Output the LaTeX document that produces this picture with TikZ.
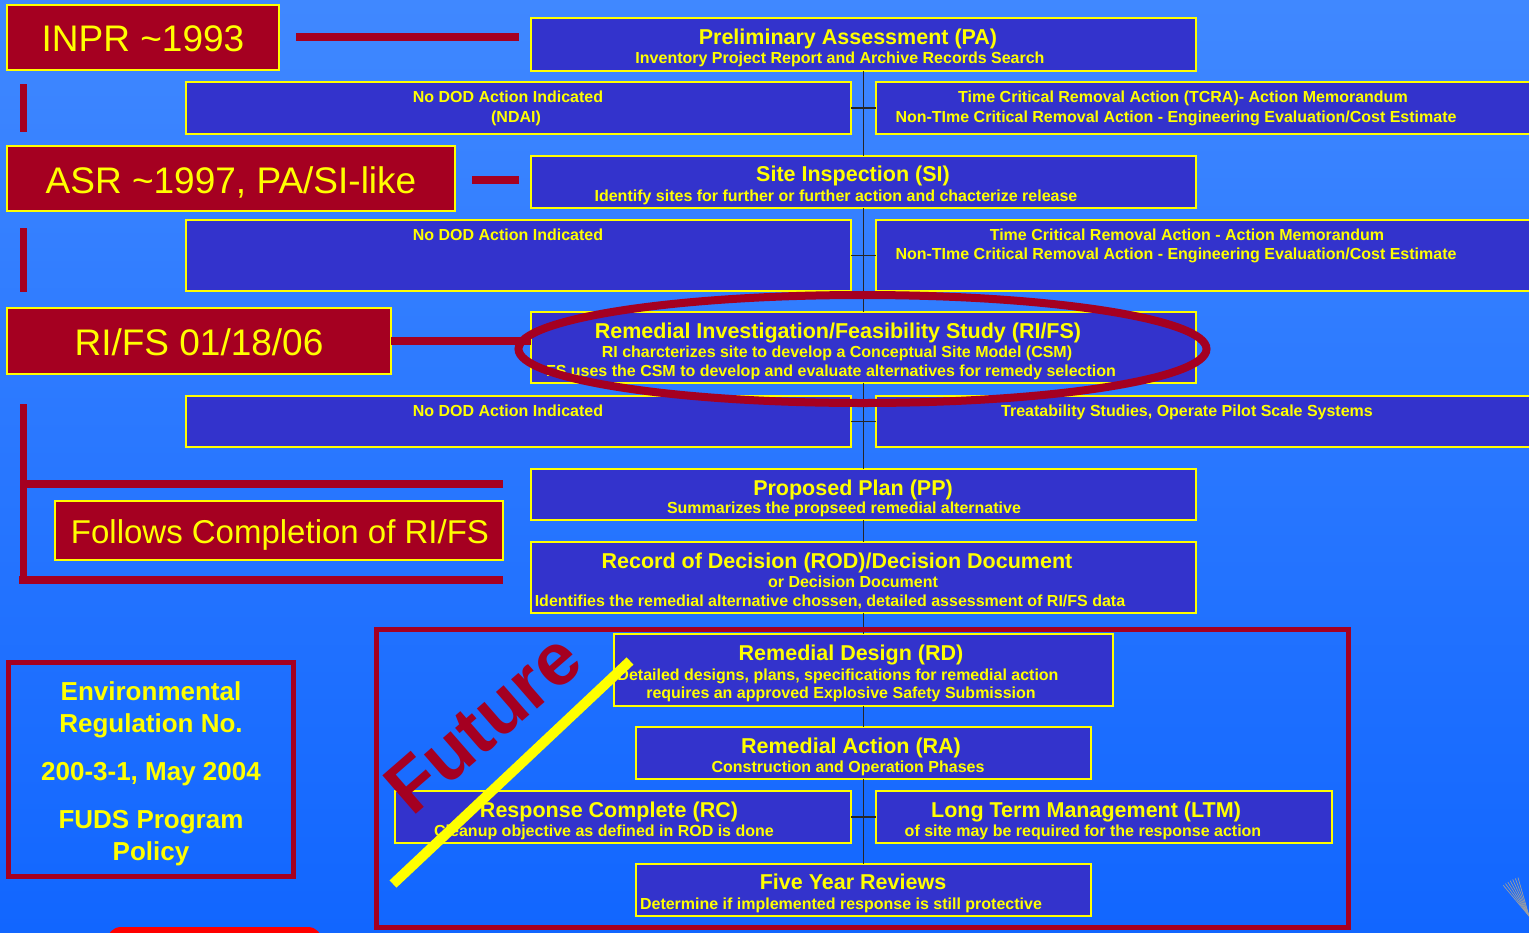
\documentclass[tikz,border=0pt]{standalone}
\usepackage{fontspec}
\setmainfont{Liberation Sans}
\usetikzlibrary{calc}
\definecolor{ylw}{RGB}{255,255,0}
\definecolor{crim}{RGB}{165,0,33}
\definecolor{boxblue}{RGB}{51,51,204}
\definecolor{bgtop}{RGB}{64,136,255}
\definecolor{bgbot}{RGB}{17,102,255}
\tikzset{
  bbox/.style={draw=ylw, line width=2.5pt, fill=boxblue, anchor=north west, inner sep=0pt, outer sep=0pt},
  rbox/.style={draw=ylw, line width=2.5pt, fill=crim, anchor=north west, inner sep=0pt, outer sep=0pt},
  ttl/.style={text=ylw, font=\bfseries\fontsize{21.5}{24}\selectfont, anchor=base, inner sep=0pt},
  sub/.style={text=ylw, font=\bfseries\fontsize{16}{18}\selectfont, anchor=base, inner sep=0pt},
  rtxt/.style={text=ylw, font=\fontsize{37}{40}\selectfont, anchor=base, inner sep=0pt},
  etxt/.style={text=ylw, font=\bfseries\fontsize{26}{28}\selectfont, anchor=base, inner sep=0pt},
  bar/.style={draw=crim, line width=8pt},
  spine/.style={draw=black!85, line width=1.5pt},
}
\begin{document}
\begin{tikzpicture}[x=1pt,y=-1pt]
\useasboundingbox (0,0) rectangle (1529,932);
\clip (0,0) rectangle (1529,932);
\shade[top color=bgtop, bottom color=bgbot] (0,0) rectangle (1529,932);

% ---- blue boxes ----
\node[bbox, minimum width=665, minimum height=53] (pa) at (531,18) {};
\node[bbox, minimum width=665, minimum height=52] (ndai1) at (186,82) {};
\node[bbox, minimum width=700, minimum height=52] (tcra1) at (876,82) {};
\node[bbox, minimum width=665, minimum height=52] (si) at (531,156) {};
\node[bbox, minimum width=665, minimum height=71] (ndai2) at (186,220) {};
\node[bbox, minimum width=700, minimum height=71] (tcra2) at (876,220) {};
\node[bbox, minimum width=665, minimum height=71] (rifs) at (531,312) {};
\node[bbox, minimum width=665, minimum height=51] (ndai3) at (186,396) {};
\node[bbox, minimum width=700, minimum height=51] (treat) at (876,396) {};
\node[bbox, minimum width=665, minimum height=51] (pp) at (531,469) {};
\node[bbox, minimum width=665, minimum height=71] (rod) at (531,542) {};
\node[bbox, minimum width=499, minimum height=72] (rd) at (614,634) {};
\node[bbox, minimum width=455, minimum height=52] (ra) at (636,727) {};
\node[bbox, minimum width=456, minimum height=52] (rc) at (395,791) {};
\node[bbox, minimum width=456, minimum height=52] (ltm) at (876,791) {};
\node[bbox, minimum width=455, minimum height=52] (fyr) at (636,864) {};

% ---- spine and ticks ----
\draw[spine] (pa.south) -- (si.north);
\draw[spine] (si.south) -- (rifs.north);
\draw[spine] (rifs.south) -- (pp.north);
\draw[spine] (pp.south) -- (rod.north);
\draw[spine] (rod.south) -- (rd.north);
\draw[spine] (rd.south) -- (ra.north);
\draw[spine] (ra.south) -- (fyr.north);
\draw[spine] (ndai1.east) -- (tcra1.west);
\draw[spine] (ndai2.east) -- (tcra2.west);
\draw[spine] (ndai3.east) -- (treat.west);
\draw[spine] (rc.east) -- (ltm.west);

% ---- box texts ----
\node[ttl] (pa1) at (848,44) {Preliminary Assessment (PA)};
\node[sub] (pa2) at (840,63) {Inventory Project Report and Archive Records Search};
\node[sub] (n11) at (508,102) {No DOD Action Indicated};
\node[sub] (n12) at (516,122) {(NDAI)};
\node[sub] (t11) at (1183,102) {Time Critical Removal Action (TCRA)- Action Memorandum};
\node[sub] (t12) at (1176,122) {Non-TIme Critical Removal Action - Engineering Evaluation/Cost Estimate};
\node[ttl] (si1) at (853,181) {Site Inspection (SI)};
\node[sub] (si3) at (836,201) {Identify sites for further or further action and chacterize release};
\node[sub] (n21) at (508,240) {No DOD Action Indicated};
\node[sub] (t21) at (1187,240) {Time Critical Removal Action - Action Memorandum};
\node[sub] (t22) at (1176,259) {Non-TIme Critical Removal Action - Engineering Evaluation/Cost Estimate};
\node[ttl] (rf1) at (838,338) {Remedial Investigation/Feasibility Study (RI/FS)};
\node[sub] (rf2) at (837,357) {RI charcterizes site to develop a Conceptual Site Model (CSM)};
\node[sub] (rf3) at (831,376) {FS uses the CSM to develop and evaluate alternatives for remedy selection};
\node[sub] (n31) at (508,416) {No DOD Action Indicated};
\node[sub] (tr1) at (1187,416) {Treatability Studies, Operate Pilot Scale Systems};
\node[ttl] (pp1) at (853,495) {Proposed Plan (PP)};
\node[sub] (pp2) at (844,513) {Summarizes the propseed remedial alternative};
\node[ttl] (rod1) at (837,568) {Record of Decision (ROD)/Decision Document};
\node[sub] (rod2) at (853,587) {or Decision Document};
\node[sub] (rod3) at (830,606) {Identifies the remedial alternative chossen, detailed assessment of RI/FS data};
\node[ttl] (rd1) at (851,660) {Remedial Design (RD)};
\node[sub] (rd2) at (838,680) {Detailed designs, plans, specifications for remedial action};
\node[sub] (rd3) at (841,698) {requires an approved Explosive Safety Submission};
\node[ttl] (ra1) at (851,753) {Remedial Action (RA)};
\node[sub] (ra2) at (848,772) {Construction and Operation Phases};
\node[ttl] (rc1) at (609,817) {Response Complete (RC)};
\node[sub] (rc2) at (604,836) {Cleanup objective as defined in ROD is done};
\node[ttl] (ltm1) at (1086,817) {Long Term Management (LTM)};
\node[sub] (ltm2) at (1083,836) {of site may be required for the response action};
\node[ttl] (fy1) at (853,889) {Five Year Reviews};
\node[sub] (fy2) at (841,909) {Determine if implemented response is still protective};

% ---- red label boxes ----
\node[rbox, minimum width=272, minimum height=65] (inpr) at (7,5) {};
\node[rbox, minimum width=448, minimum height=65] (asr) at (7,146) {};
\node[rbox, minimum width=384, minimum height=66] (rifsl) at (7,308) {};
\node[rbox, minimum width=448, minimum height=59] (foll) at (55,501) {};
\node[rtxt] (inprt) at (143,51) {INPR \textasciitilde1993};
\node[rtxt] (asrt) at (231,193) {ASR \textasciitilde1997, PA/SI-like};
\node[rtxt] (rifst) at (199,355) {RI/FS 01/18/06};
\node[rtxt, font=\fontsize{33}{36}\selectfont] (follt) at (280,543) {Follows Completion of RI/FS};

% ---- red connector bars ----
\draw[bar] ($(inpr.east)+(17,-1)$) -- ++(223,0);
\draw[bar] ($(asr.east)+(17,1)$) -- ++(47,0);
\draw[bar] (rifsl.east) -- (rifsl.east -| rifs.west);
\coordinate (v1a) at (23,84);  \coordinate (v1b) at (23,132);
\coordinate (v2a) at (23,228); \coordinate (v2b) at (23,292);
\coordinate (v3a) at (23,404); \coordinate (v3b) at (23,584);
\coordinate (h1) at (23,484);  \coordinate (h2) at (19,580);
\draw[draw=crim, line width=7pt] (v1a) -- (v1b);
\draw[draw=crim, line width=7pt] (v2a) -- (v2b);
\draw[draw=crim, line width=7pt] (v3a) -- (v3b);
\draw[bar] (h1) -- (h1 -| foll.east);
\draw[bar] (h2) -- (h2 -| foll.east);

% ---- ellipse around RI/FS ----
\coordinate (ellc) at (862.5,349);
\draw[crim, line width=8pt] (ellc) ellipse [x radius=344, y radius=54];

% ---- environmental regulation box ----
\node[draw=crim, line width=5pt, anchor=north west, minimum width=285, minimum height=214, inner sep=0pt] (env) at (6,660) {};
\node[etxt] (e1) at (151,700) {Environmental};
\node[etxt] (e2) at (151,732) {Regulation No.};
\node[etxt] (e3) at (151,780) {200-3-1, May 2004};
\node[etxt] (e4) at (151,828) {FUDS Program};
\node[etxt] (e5) at (151,860) {Policy};

% ---- future frame ----
\node[draw=crim, line width=5pt, anchor=north west, minimum width=972, minimum height=298, inner sep=0pt] (fut) at (374,627) {};
\node[text=crim, font=\bfseries\fontsize{74}{80}\selectfont, rotate=41, inner sep=0pt] (futt) at (483,723) {Future};
\coordinate (ya) at (393,884);
\coordinate (yb) at (630,661);
\draw[ylw, line width=10pt] (ya) -- (yb);

% ---- bottom red shape ----
\fill[red, rounded corners=14pt] (107,927) rectangle (322,960);

% ---- feather at bottom right ----
\foreach \a in {0,4,...,24} {
  \draw[gray!75, line width=0.7pt] (1529,916) -- ++({180+50+\a}:40);
}
\end{tikzpicture}
\end{document}
